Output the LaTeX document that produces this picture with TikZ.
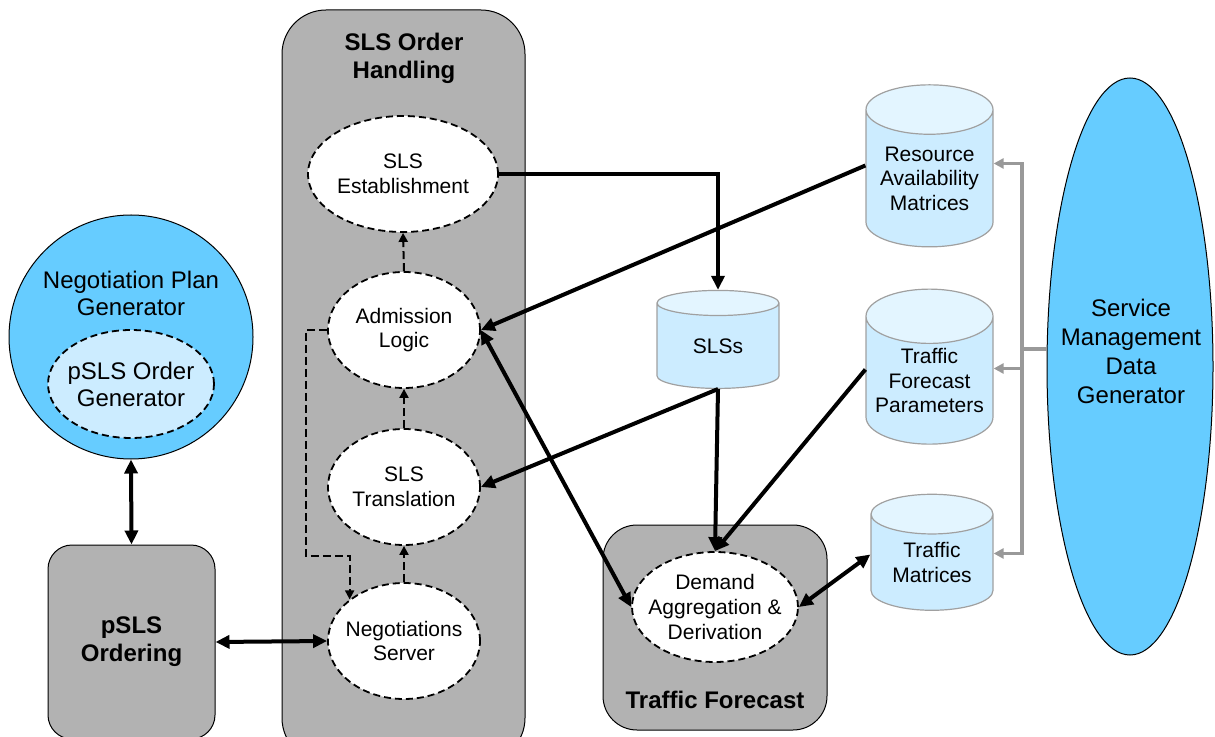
\documentclass[tikz,border=0pt]{standalone}
\usepackage{fontspec}
\setmainfont{Liberation Sans}
\usetikzlibrary{arrows.meta, shapes.geometric, positioning}
\definecolor{dkblue}{HTML}{66CCFF}
\definecolor{ltblue}{HTML}{CCECFF}
\definecolor{boxgray}{HTML}{B2B2B2}
\definecolor{cylgray}{HTML}{A0A0A0}
\definecolor{bargray}{HTML}{999999}

\begin{document}
\begin{tikzpicture}[x=0.5pt, y=-0.5pt,
    grp/.style={draw, fill=boxgray, line width=0.5pt},
    grptitle/.style={font=\fontsize{12}{14}\selectfont\bfseries, align=center},
    proc/.style={ellipse, draw, dash pattern=on 3.5pt off 2pt, line width=0.9pt, fill=white,
                 inner xsep=-5pt, inner ysep=0pt, minimum width=76pt, minimum height=58pt,
                 align=center, font=\fontsize{10.5}{12.3}\selectfont},
    db/.style={cylinder, shape border rotate=90, aspect=0.5, draw=cylgray, line width=0.6pt,
               cylinder uses custom fill, cylinder body fill=ltblue, cylinder end fill=ltblue!55!white,
               inner sep=0pt, align=center, font=\fontsize{10.5}{12.3}\selectfont},
    gen/.style={draw, fill=dkblue, line width=0.5pt},
    gentxt/.style={align=center, font=\fontsize{12}{13.5}\selectfont},
    arr/.style={-{Triangle[length=7pt,width=6.5pt]}, line width=2pt},
    darr/.style={{Triangle[length=7pt,width=6.5pt]}-{Triangle[length=7pt,width=6.5pt]}, line width=2pt},
    dasharr/.style={-{Triangle[length=4.5pt,width=4.5pt]}, line width=1pt, dash pattern=on 4pt off 2pt},
    garr/.style={-{Triangle[length=5pt,width=5pt]}, line width=1.8pt, draw=bargray}
]
\useasboundingbox (0,0) rectangle (1215,737);
\clip (0,0) rectangle (1215,737);

\node[grp, rounded corners=22pt, minimum width=121.5pt, minimum height=376pt] (soh) at (403.5,386) {};
\node[grptitle] (sohlabel) at (404,58) {SLS Order\\Handling};
\node[grp, grptitle, rounded corners=12pt, minimum width=83.5pt, minimum height=97pt] (pso) at (131.5,642) {pSLS\\Ordering};
\node[grp, rounded corners=17pt, minimum width=112pt, minimum height=102.5pt] (tfc) at (715,627.5) {};
\node[grptitle] (tfclabel) at (715,700) {Traffic Forecast};

\node[gen, circle, minimum size=122pt, inner sep=0pt] (npg) at (131,337) {};
\node[gentxt] (npglabel) at (131,293) {Negotiation Plan\\Generator};
\node[proc, fill=ltblue, minimum width=83pt, minimum height=54pt, font=\fontsize{12}{13.5}\selectfont] (psog) at (131,384) {pSLS Order\\Generator};
\node[gen, ellipse, minimum width=83pt, minimum height=288.5pt, inner sep=0pt] (smdg) at (1130,366.5) {};
\node[gentxt, font=\fontsize{12}{14.5}\selectfont] (smdglabel) at (1131,351) {Service\\Management\\Data\\Generator};

\node[proc, minimum width=95pt] (est) at (403,174) {SLS\\Establishment};
\node[proc] (adm) at (404,330) {Admission\\Logic};
\node[proc] (trl) at (404,487) {SLS\\Translation};
\node[proc] (nsv) at (404,641) {Negotiations\\Server};
\node[proc, minimum width=83pt, minimum height=55pt] (dem) at (715,607) {Demand\\Aggregation \&\\Derivation};

\node[db, minimum width=61pt, minimum height=49pt] (sls) at (718,346) {SLSs};
\node[db, minimum width=63.5pt, minimum height=81pt] (ram) at (929.5,178.5) {Resource\\Availability\\Matrices};
\node[db, minimum width=63.5pt, minimum height=77.5pt] (tfp) at (929.5,380.5) {Traffic\\Forecast\\Parameters};
\node[db, minimum width=61pt, minimum height=58pt] (tm) at (932,562.5) {Traffic\\Matrices};

\draw[arr] (est.east) -| (sls.north);
\draw[arr] ([yshift=6.5pt]ram.west) -- (adm.east);
\draw[darr] (adm.east) -- (dem.west);
\draw[arr] (sls.south) -- (trl.east);
\draw[arr] (sls.south) -- (dem.north);
\draw[arr] ([yshift=5.5pt]tfp.west) -- (dem.north);
\draw[darr] (dem.east) -- ([yshift=4pt]tm.west);
\draw[darr] (nsv.west) -- (pso.east);
\draw[darr] (npg.south) -- (pso.north);

\draw[dasharr] (trl.north) -- (adm.south);
\draw[dasharr] (adm.north) -- (est.south);
\draw[dasharr] (nsv.north) -- (trl.south);
\draw[dasharr] (adm.west) -- ++(-21,0) |- ([yshift=21.5pt]nsv.north west) -- (nsv.north west);

\coordinate (gbus) at (1022,349);
\draw[line width=1.8pt, draw=bargray] (smdg.west |- gbus) -- (gbus);
\draw[garr] (gbus) |- ([yshift=7.5pt]ram.east);
\draw[garr] (gbus) |- ([yshift=6pt]tfp.east);
\draw[garr] (gbus) |- ([yshift=4.5pt]tm.east);
\end{tikzpicture}
\end{document}
